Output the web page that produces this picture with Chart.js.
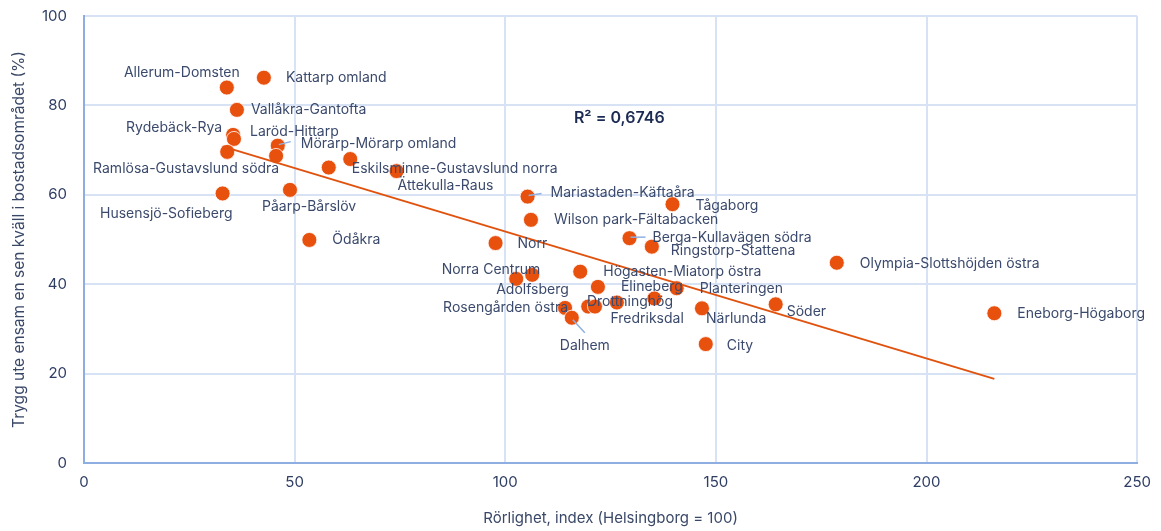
<!DOCTYPE html>
<html>
<head>
<meta charset="utf-8">
<script src="https://cdn.jsdelivr.net/npm/chart.js@4"></script>
<style>
  body { margin: 0; background: #ffffff; }
  #wrap { width: 1161px; height: 531px; }
</style>
</head>
<body>
<div id="wrap"><canvas id="rorlighet" width="1161" height="531"></canvas></div>
<script>
// omraden, rorlighet (index) och andel trygga (%)
var omraden = [
    'Allerum-Domsten', 'Kattarp omland', 'Vallåkra-Gantofta', 'Rydebäck-Rya', 'Laröd-Hittarp',
    'Ramlösa-Gustavslund södra', 'Mörarp-Mörarp omland', '', 'Eskilsminne-Gustavslund norra', '',
    'Ättekulla-Raus', 'Husensjö-Sofieberg', 'Påarp-Bårslöv', 'Ödåkra', 'Mariastaden-Käftaåra',
    'Wilson park-Fältabacken', 'Norr', 'Berga-Kullavägen södra', 'Ringstorp-Stattena', 'Tågaborg',
    'Adolfsberg', 'Norra Centrum', 'Högasten-Miatorp östra', 'Elineberg', 'Rosengården östra',
    'Dalhem', '', '', 'Drottninghög', 'Fredriksdal',
    'Planteringen', 'Närlunda', 'City', 'Söder', 'Olympia-Slottshöjden östra',
    'Eneborg-Högaborg'
];
var rorlighet = [
    33.9, 42.7, 36.3, 35.4, 35.6,
    34.0, 46.0, 45.6, 58.1, 63.2,
    74.2, 32.9, 48.9, 53.5, 105.3,
    106.1, 97.7, 129.5, 134.8, 139.7,
    102.6, 106.4, 117.8, 122.0, 114.2,
    115.8, 119.7, 121.3, 126.5, 135.4,
    140.7, 146.7, 147.6, 164.2, 178.7,
    216.1
];
var trygghet = [
    84.0, 86.2, 79.0, 73.4, 72.5,
    69.6, 71.0, 68.7, 66.1, 68.0,
    65.3, 60.3, 61.1, 49.9, 59.6,
    54.4, 49.2, 50.3, 48.4, 57.9,
    41.2, 42.1, 42.8, 39.4, 34.7,
    32.5, 35.0, 35.0, 35.9, 36.8,
    39.1, 34.6, 26.6, 35.5, 44.8,
    33.5
];
var xTicks = [0, 50, 100, 150, 200, 250];
var yTicks = [0, 20, 40, 60, 80, 100];
var r2Text = 'R² = 0,6746';

// etikettplacering i pixlar relativt punkten: [dx, dy, justering, ledare dx, ledare dy]
var etikettLage = [
    [13, -15, 'r'], [22, 0, 'l'], [14, 0, 'l'], [-11, -7, 'r'], [16, -7, 'l'],
    [52, 17, 'r'], [23, -2, 'l', 13, -4], null, [23, 1, 'l'], null,
    [1, 15, 'l'], [10, 20, 'r'], [-28, 17, 'l'], [23, 0, 'l'], [23, -4, 'l', 14, -3],
    [23, 0, 'l'], [22, 1, 'l'], [23, 0, 'l', 16, -1], [19, 4, 'l'], [23, 2, 'l'],
    [-20, 11, 'l'], [8, -5, 'r'], [23, 0, 'l'], [23, 0, 'l'], [3, 0, 'r'],
    [-12, 28, 'l', 13, 15], null, null, [-30, -1, 'l'], [-44, 20, 'l'],
    [23, 1, 'l'], [4, 10, 'l'], [21, 2, 'l'], [11, 7, 'l'], [23, 1, 'l'],
    [23, 1, 'l']
];

// linjar trendlinje (minsta kvadrat)
function trendlinje(xs, ys) {
    var n = xs.length, sx = 0, sy = 0, sxx = 0, sxy = 0;
    for (var i = 0; i < n; i++) {
        sx += xs[i]; sy += ys[i];
        sxx += xs[i] * xs[i]; sxy += xs[i] * ys[i];
    }
    var k = (n * sxy - sx * sy) / (n * sxx - sx * sx);
    var m = (sy - k * sx) / n;
    var x0 = Math.min.apply(null, xs), x1 = Math.max.apply(null, xs);
    return [{ x: x0, y: m + k * x0 }, { x: x1, y: m + k * x1 }];
}

var punkter = rorlighet.map(function (x, i) { return { x: x, y: trygghet[i] }; });

var etiketter = {
    id: 'etiketter',
    afterDatasetsDraw: function (chart) {
        var ctx = chart.ctx;
        var meta = chart.getDatasetMeta(1);
        ctx.save();
        ctx.textBaseline = 'middle';
        meta.data.forEach(function (pt, i) {
            var lage = etikettLage[i];
            if (!lage || !omraden[i]) return;
            if (lage.length > 3) {
                ctx.strokeStyle = '#8fb0e3';
                ctx.lineWidth = 1.5;
                ctx.beginPath();
                ctx.moveTo(pt.x + 1, pt.y + (lage[4] > 5 ? 2 : -1));
                ctx.lineTo(pt.x + lage[3], pt.y + lage[4]);
                ctx.stroke();
            }
            ctx.font = '14px Inter';
            ctx.fillStyle = '#3b4a6c';
            ctx.textAlign = lage[2] === 'r' ? 'right' : 'left';
            ctx.fillText(omraden[i], pt.x + lage[0], pt.y + lage[1]);
        });
        var xs = chart.scales.x, ys = chart.scales.y;
        ctx.font = '600 16px Inter';
        ctx.fillStyle = '#1b2b52';
        ctx.textAlign = 'left';
        ctx.fillText(r2Text, xs.getPixelForValue(116.3), ys.getPixelForValue(77.2));
        ctx.restore();
    }
};

Chart.defaults.font.family = 'Inter';

var ctx = document.getElementById('rorlighet').getContext('2d');
var diagram = new Chart(ctx, {
    type: 'scatter',
    data: {
        datasets: [{
            data: trendlinje(rorlighet, trygghet),
            showLine: true,
            borderColor: '#e0530f',
            borderWidth: 2,
            pointRadius: 0,
            order: 0
        }, {
            data: punkter,
            backgroundColor: '#e8500e',
            borderColor: '#ffffff',
            borderWidth: 0.8,
            pointRadius: 7.5,
            order: 1
        }]
    },
    options: {
        responsive: false,
        animation: false,
        events: [],
        layout: { padding: { left: 0, right: 23, top: 16, bottom: 0 } },
        plugins: {
            legend: { display: false },
            tooltip: { enabled: false }
        },
        scales: {
            x: {
                min: 0,
                max: 250,
                afterBuildTicks: function (s) { s.ticks = xTicks.map(function (v) { return { value: v }; }); },
                afterFit: function (s) { s.height = 68; },
                grid: { color: '#d7e3f5', lineWidth: 2, drawTicks: false },
                border: { color: '#8eaee2', width: 2 },
                ticks: { color: '#2e3d62', font: { size: 15 }, padding: 10 },
                title: {
                    display: true,
                    text: 'Rörlighet, index (Helsingborg = 100)',
                    color: '#3a4868',
                    font: { size: 15 },
                    padding: { top: 0, bottom: 4 }
                }
            },
            y: {
                min: 0,
                max: 100,
                afterBuildTicks: function (s) { s.ticks = yTicks.map(function (v) { return { value: v }; }); },
                afterFit: function (s) {
                    s.width = 84;
                    s.paddingTop = 8;
                    s.paddingBottom = 8;
                },
                grid: { color: '#d7e3f5', lineWidth: 2, drawTicks: false },
                border: { color: '#8eaee2', width: 2 },
                ticks: { color: '#2e3d62', font: { size: 15 }, padding: 17 },
                title: {
                    display: true,
                    text: 'Trygg ute ensam en sen kväll i bostadsområdet (%)',
                    color: '#3a4868',
                    font: { size: 15.5 },
                    padding: { top: 10, bottom: 0 }
                }
            }
        }
    },
    plugins: [etiketter]
});
</script>
</body>
</html>
